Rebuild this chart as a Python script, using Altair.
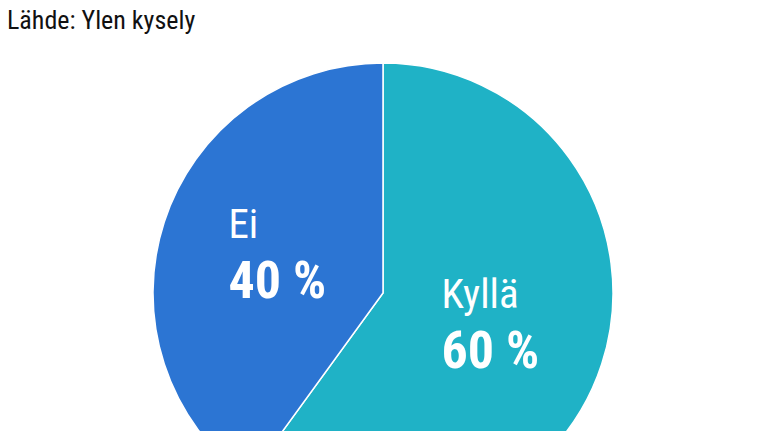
import altair as alt
import pandas as pd

categories = ["Kyllä", "Ei"]
values = [60, 40]
colors = ["#1FB2C6", "#2C75D3"]
source_text = ["Lähde: Ylen kysely"]

FONT = "Roboto Condensed, Roboto, sans-serif"

df = pd.DataFrame({
    "vastaus": categories,
    "osuus": values,
    "jarjestys": list(range(len(categories))),
})
df["pct"] = [f"{v} %" for v in values]

src = pd.DataFrame({"teksti": source_text})

base = alt.Chart(df).encode(
    theta=alt.Theta("osuus:Q", stack=True),
    order=alt.Order("jarjestys:Q"),
)

arcs = base.mark_arc(radius=230, stroke="white", strokeWidth=1.5).encode(
    color=alt.Color("vastaus:N",
                    scale=alt.Scale(domain=categories, range=colors),
                    legend=None),
)

names = base.mark_text(
    radius=112, align="left", baseline="alphabetic", dx=-48, dy=-20,
    font=FONT, fontSize=41, fontWeight="normal", color="white",
).encode(text="vastaus:N")

pcts = base.mark_text(
    radius=112, align="left", baseline="alphabetic", dx=-48, dy=40,
    font=FONT, fontSize=52, fontWeight="bold", color="white",
).encode(text="pct:N")

title = alt.Chart(src).mark_text(
    align="left", baseline="alphabetic", font=FONT, fontSize=26, color="#111111",
).encode(
    text="teksti:N",
    x=alt.value(-1),
    y=alt.value(21),
)

chart = alt.layer(arcs, names, pcts, title).properties(
    width=750, height=570,
    autosize=alt.AutoSizeParams(type="none"),
    padding=0,
).configure_view(stroke=None)

chart.save("out.html", embed_options={"renderer": "svg", "actions": False})
